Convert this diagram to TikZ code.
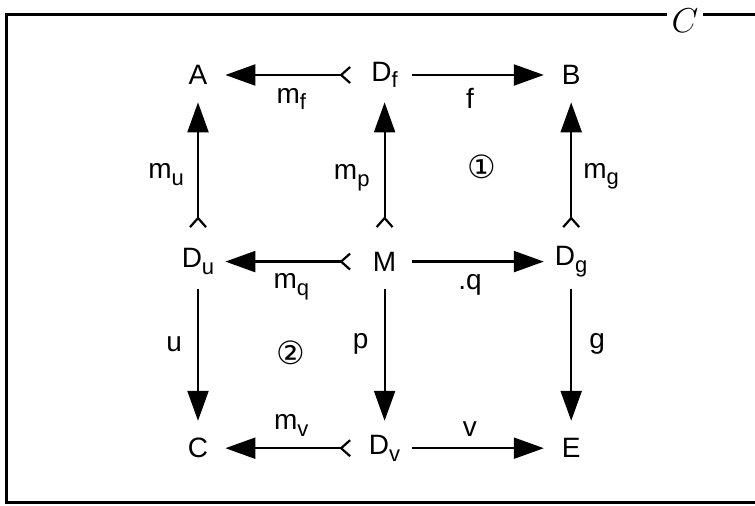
\documentclass[tikz,border=0pt]{standalone}
\usepackage{fontspec}
\setmainfont{Liberation Sans}
\newfontfamily\circfont{DejaVu Sans}
\usetikzlibrary{arrows.meta,positioning}

\newcommand\idx[1]{\raisebox{-0.45ex}{\fontsize{11}{12}\selectfont #1}}

\tikzset{
  obj/.style={circle, inner sep=0pt, minimum size=27pt, font=\fontsize{14}{16}\selectfont},
  lbl/.style={font=\fontsize{14}{16}\selectfont, inner sep=2pt},
  mono/.style={{Straight Barb[reversed, length=4.5pt, width=8pt]}-{Triangle[length=15pt, width=10.5pt]}, line width=1.1pt, shorten <=3pt},
  map/.style={-{Triangle[length=15pt, width=10.5pt]}, line width=1.1pt},
  frame/.style={line width=1.5pt},
}

\begin{document}
\begin{tikzpicture}[x=0.5pt, y=-0.5pt, node distance=93.3pt]
    \useasboundingbox (0,0) rectangle (755,506);

    % the category and its frame
    \node[font=\fontsize{17}{19}\selectfont] (cat) at (685,21) {$C$};
    \draw[frame] (667,15) -- (6,15) -- (6,503) -- (755,503);
    \draw[frame] (703,15) -- (755,15);

    % objects
    \node[obj] (A) at (198,75) {A};
    \node[obj, right of=A] (Df) {D\idx{f}};
    \node[obj, right of=Df] (B) {B};
    \node[obj, below of=A] (Du) {D\idx{u}};
    \node[obj, right of=Du] (M) {M};
    \node[obj, right of=M] (Dg) {D\idx{g}};
    \node[obj, below of=Du] (C) {C};
    \node[obj, right of=C] (Dv) {D\idx{v}};
    \node[obj, right of=Dv] (E) {E};

    % regions
    \node[font=\circfont\fontsize{16}{18}\selectfont] (one) at (482,167) {①};
    \node[font=\circfont\fontsize{16}{18}\selectfont] (two) at (291,353) {②};

    % top row
    \draw[mono] (Df) -- node[lbl, below=4pt] {m\idx{f}} (A);
    \draw[map] (Df) -- node[lbl, pos=.44, below=4pt] {f} (B);

    % upper columns
    \draw[mono] (Du) -- node[lbl, pos=.45, left=4.5pt] {m\idx{u}} (A);
    \draw[mono] (M) -- node[lbl, pos=.43, left=5pt] {m\idx{p}} (Df);
    \draw[mono] (Dg) -- node[lbl, pos=.44, right=3.5pt] {m\idx{g}} (B);

    % middle row
    \draw[mono] (M) -- node[lbl, below=3.5pt] {m\idx{q}} (Du);
    \draw[map] (M) -- node[lbl, pos=.44, below=4pt] {.q} (Dg);

    % lower columns
    \draw[map] (Du) -- node[lbl, pos=.42, left=5.5pt] {u} (C);
    \draw[map] (M) -- node[lbl, pos=.42, left=5.5pt] {p} (Dv);
    \draw[map] (Dg) -- node[lbl, pos=.42, right=6.5pt] {g} (E);

    % bottom row
    \draw[mono] (Dv) -- node[lbl, above=3.5pt] {m\idx{v}} (C);
    \draw[map] (Dv) -- node[lbl, pos=.44, above=3.5pt] {v} (E);
\end{tikzpicture}
\end{document}
